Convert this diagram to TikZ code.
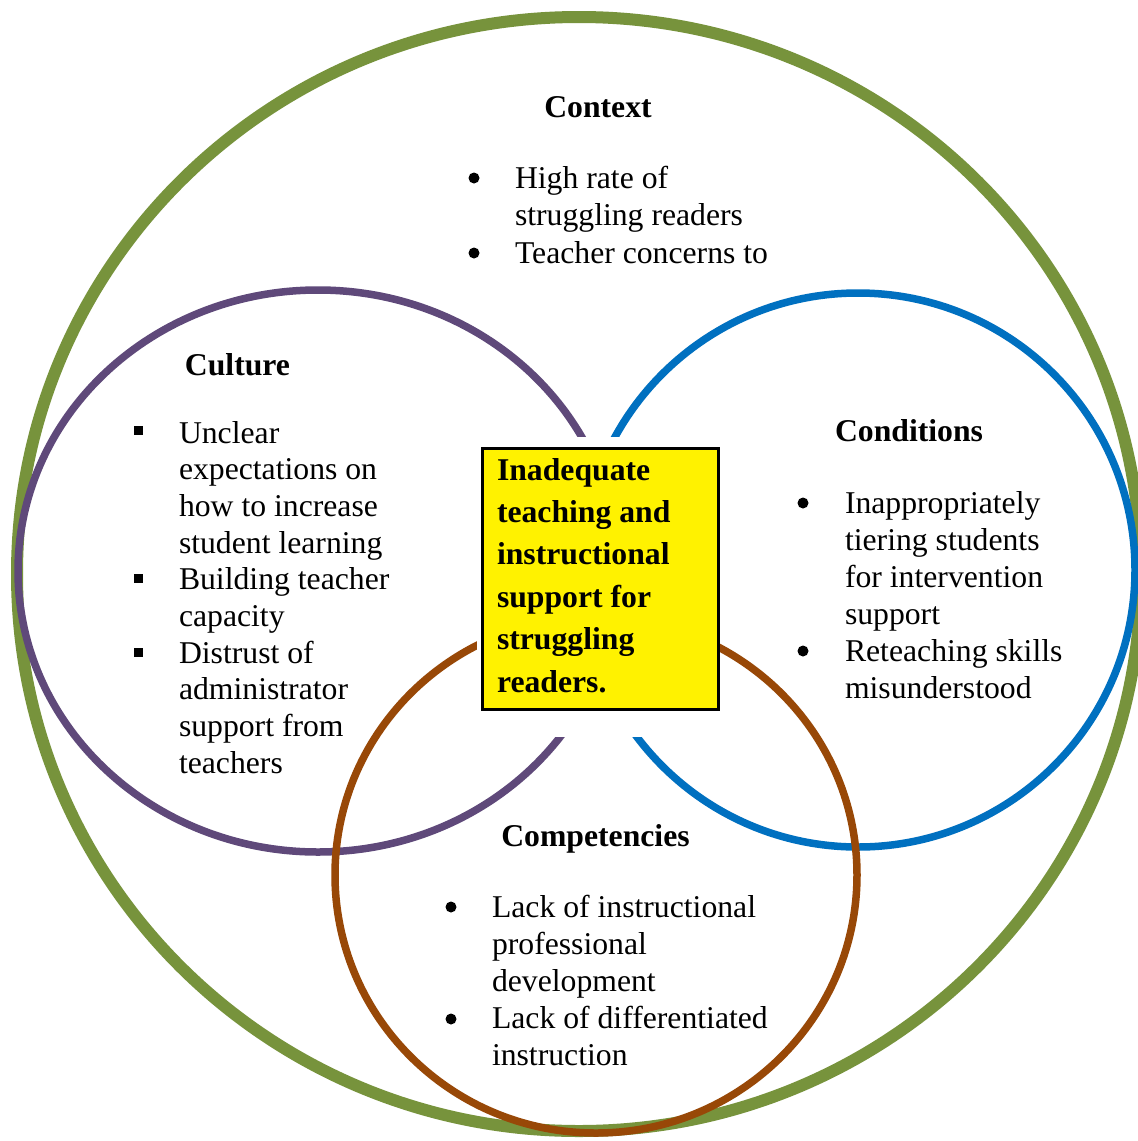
\documentclass[tikz,border=0pt]{standalone}
\usepackage{fontspec}
\setmainfont{Liberation Serif}
\definecolor{cgreen}{HTML}{77933C}
\definecolor{cpurple}{HTML}{5F497A}
\definecolor{cblue}{HTML}{0070C0}
\definecolor{cbrown}{HTML}{984807}
\begin{document}
\begin{tikzpicture}[x=1pt,y=-1pt,
  txt/.style={inner sep=0pt, outer sep=0pt, anchor=base west, font=\fontsize{31.7}{37}\selectfont},
  btxt/.style={txt, font=\fontsize{31.7}{37}\selectfont\bfseries},
  ttl/.style={inner sep=0pt, outer sep=0pt, anchor=base, font=\fontsize{31.7}{37}\selectfont\bfseries},
  dotb/.style={circle, fill=black, inner sep=0pt, minimum size=11pt},
  sqb/.style={rectangle, fill=black, inner sep=0pt, minimum size=9pt},
  ring/.style={line width=7.5pt}]
\useasboundingbox (0,0) rectangle (1138,1141);
\fill[white] (0,0) rectangle (1138,1141);
% circles
\draw[line width=12pt, cgreen] (579,574) ellipse [x radius=562, y radius=557];
\draw[ring, cpurple] (318,571) ellipse [x radius=300, y radius=281];
\draw[ring, cblue] (858,570) circle [radius=277];
\draw[ring, cbrown] (596,875) ellipse [x radius=261, y radius=258];
% central box
\fill[white] (477,437) rectangle (720,737);
\node[rectangle, draw=black, fill=yellow, line width=2.5pt, minimum width=236pt, minimum height=261pt, anchor=north west] (core) at (481,447) {};
\foreach \t [count=\i from 0] in {Inadequate, teaching and, instructional, support for, struggling, readers.}
  \node[btxt] (core\i) at (497,{480+42.4*\i}) {\t};
% Context
\node[ttl] (ctxT) at (598,117) {Context};
\foreach \t [count=\i from 0] in {High rate of, struggling readers, Teacher concerns to}
  \node[txt] (ctx\i) at (515,{188+37.5*\i}) {\t};
\node[dotb] (ctxb1) at (474,178) {};
\node[dotb] (ctxb2) at (474,253) {};
% Culture
\node[ttl] (culT) at (237.5,375) {Culture};
\foreach \t [count=\i from 0] in {Unclear, expectations on, how to increase, student learning, Building teacher, capacity, Distrust of, administrator, support from, teachers}
  \node[txt] (cul\i) at (179,{443+36.7*\i}) {\t};
\node[sqb] (culb1) at (138,430) {};
\node[sqb] (culb2) at (138,578) {};
\node[sqb] (culb3) at (138,652) {};
% Conditions
\node[ttl] (conT) at (909,441) {Conditions};
\foreach \t [count=\i from 0] in {Inappropriately, tiering students, for intervention, support, Reteaching skills, misunderstood}
  \node[txt] (con\i) at (845,{513+37*\i}) {\t};
\node[dotb] (conb1) at (803,503) {};
\node[dotb] (conb2) at (803,651) {};
% Competencies
\node[ttl] (comT) at (595.5,846) {Competencies};
\foreach \t [count=\i from 0] in {Lack of instructional, professional, development, Lack of differentiated, instruction}
  \node[txt] (com\i) at (492,{917+37.2*\i}) {\t};
\node[dotb] (comb1) at (451,907) {};
\node[dotb] (comb2) at (451,1019) {};
\end{tikzpicture}
\end{document}
